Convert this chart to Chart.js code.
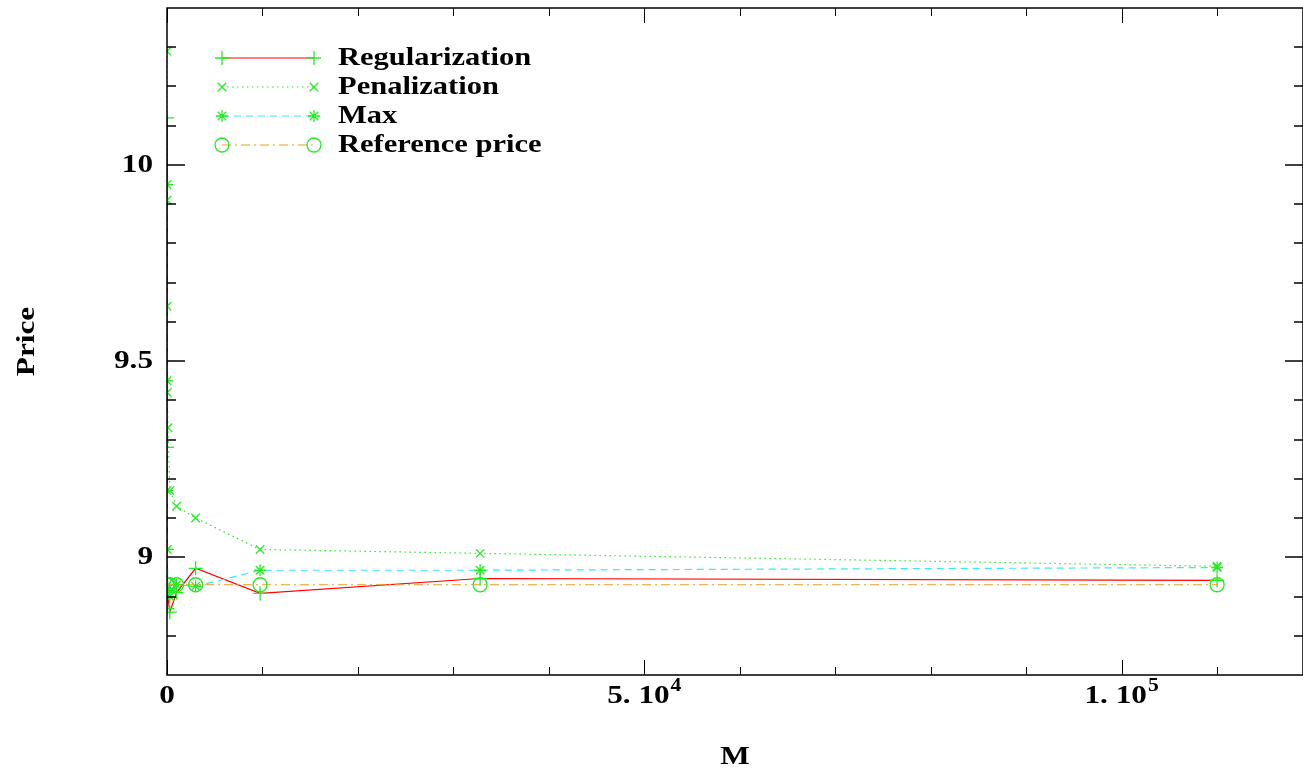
<!DOCTYPE html>
<html><head><meta charset="utf-8">
<script src="https://cdn.jsdelivr.net/npm/chart.js@4/dist/chart.umd.min.js"></script>
<style>html,body{margin:0;padding:0;background:#fff}#wrap{width:1303px;height:770px}</style>
</head><body><div id="wrap"><canvas id="c" width="1303" height="770"></canvas></div>
<script>
const M = [1, 3, 10, 30, 100, 300, 1000, 3000, 9750, 32800, 110000];
const regularization = [10.12, 9.28, 9.02, 8.87, 8.91, 8.86, 8.91, 8.972, 8.908, 8.946, 8.941];
const penalization = [10.29, 9.91, 9.64, 9.42, 9.33, 9.17, 9.13, 9.10, 9.02, 9.01, 8.977];
const maxPrice = [9.95, 9.45, 9.17, 9.02, 8.92, 8.90, 8.93, 8.926, 8.967, 8.967, 8.974];
const referencePrice = [8.93, 8.93, 8.93, 8.93, 8.93, 8.93, 8.93, 8.93, 8.93, 8.93, 8.93];
const seriesNames = ['Regularization', 'Penalization', 'Max', 'Reference price'];
const xTickValues = [0, 50000, 100000];
const xTickMantissa = ['0', '5. 10', '1. 10'];
const xTickExponent = ['', '4', '5'];
const xMinorTicks = [10000, 20000, 30000, 40000, 60000, 70000, 80000, 90000, 110000];
const yTickValues = [9, 9.5, 10];
const yTickLabels = ['9', '9.5', '10'];
const yMinorTicks = [8.8, 8.9, 9.1, 9.2, 9.3, 9.4, 9.6, 9.7, 9.8, 9.9, 10.1, 10.2, 10.3];
const xTitle = 'M';
const yTitle = 'Price';

const GREEN = '#22ee22';
const FONT = '"Liberation Serif", "Times New Roman", serif';
const STRETCH = 1.2;
const styles = [
  {line: '#ff0000', dash: [], point: 'cross', r: 7},
  {line: '#22ee22', dash: [1.5, 3.5], point: 'crossRot', r: 6},
  {line: '#33eeee', dash: [7, 5], point: 'star', r: 6},
  {line: '#e8a020', dash: [9, 4, 2, 4], point: 'circle', r: 7}
];
const allSeries = [regularization, penalization, maxPrice, referencePrice];
const datasets = allSeries.map((vals, i) => ({
  label: seriesNames[i],
  data: M.map((m, j) => ({x: m, y: vals[j]})),
  borderColor: styles[i].line,
  borderWidth: 1.2,
  borderDash: styles[i].dash,
  pointStyle: styles[i].point,
  pointRadius: styles[i].r,
  pointBorderColor: GREEN,
  pointBackgroundColor: 'rgba(0,0,0,0)',
  pointBorderWidth: 1.3,
  tension: 0,
  fill: false,
  clip: 0,
  order: 4 - i
}));

function stretchedText(ctx, str, x, y, size, align, sx) {
  ctx.save();
  ctx.font = 'bold ' + size + 'px ' + FONT;
  const w = ctx.measureText(str).width * sx;
  let left = x;
  if (align === 'center') left = x - w / 2;
  else if (align === 'right') left = x - w;
  ctx.translate(left, y);
  ctx.scale(sx, 1);
  ctx.textAlign = 'left';
  ctx.textBaseline = 'middle';
  ctx.fillText(str, 0, 0);
  ctx.restore();
  return w;
}

const framePlugin = {
  id: 'frame',
  afterDraw(chart) {
    const ctx = chart.ctx, a = chart.chartArea;
    const xs = chart.scales.x, ys = chart.scales.y;
    ctx.save();
    ctx.strokeStyle = '#000';
    ctx.lineWidth = 1.5;
    ctx.setLineDash([]);
    ctx.strokeRect(a.left, a.top, a.right - a.left, a.bottom - a.top);
    ctx.lineWidth = 1;
    const seg = (x1, y1, x2, y2) => { ctx.beginPath(); ctx.moveTo(x1, y1); ctx.lineTo(x2, y2); ctx.stroke(); };
    xTickValues.forEach(v => { const p = Math.round(xs.getPixelForValue(v)) + 0.5; seg(p, a.bottom, p, a.bottom - 15); seg(p, a.top, p, a.top + 15); });
    xMinorTicks.forEach(v => { const p = Math.round(xs.getPixelForValue(v)) + 0.5; seg(p, a.bottom, p, a.bottom - 8); seg(p, a.top, p, a.top + 8); });
    ctx.lineWidth = 1.5;
    yTickValues.forEach(v => { const p = Math.round(ys.getPixelForValue(v)); seg(a.left, p, a.left + 18, p); seg(a.right, p, a.right - 18, p); });
    yMinorTicks.forEach(v => { const p = Math.round(ys.getPixelForValue(v)); seg(a.left, p, a.left + 9, p); seg(a.right, p, a.right - 9, p); });

    // tick labels
    ctx.fillStyle = '#000';
    yTickValues.forEach((v, i) => stretchedText(ctx, yTickLabels[i], a.left - 14, ys.getPixelForValue(v), 26, 'right', STRETCH));
    xTickValues.forEach((v, i) => {
      const cx = xs.getPixelForValue(v), cy = a.bottom + 21;
      ctx.font = 'bold 26px ' + FONT;
      const wm = ctx.measureText(xTickMantissa[i]).width * STRETCH;
      ctx.font = 'bold 18px ' + FONT;
      const we = xTickExponent[i] ? ctx.measureText(xTickExponent[i]).width * STRETCH + 1 : 0;
      const left = cx - (wm + we) / 2;
      stretchedText(ctx, xTickMantissa[i], left, cy, 26, 'left', STRETCH);
      if (we) stretchedText(ctx, xTickExponent[i], left + wm + 1, cy - 10, 18, 'left', STRETCH);
    });
    // axis titles
    stretchedText(ctx, xTitle, (a.left + a.right) / 2, 757, 26, 'center', STRETCH);
    ctx.save();
    ctx.translate(27, (a.top + a.bottom) / 2);
    ctx.rotate(-Math.PI / 2);
    stretchedText(ctx, yTitle, 0, 0, 26, 'center', STRETCH);
    ctx.restore();

    // legend
    const lx1 = a.left + 55, lx2 = a.left + 147, tx = a.left + 171;
    styles.forEach((s, i) => {
      const y = a.top + 50 + i * 29;
      ctx.strokeStyle = s.line; ctx.lineWidth = 1.2; ctx.setLineDash(s.dash);
      seg(lx1, y, lx2, y);
      ctx.setLineDash([]);
      ctx.strokeStyle = GREEN; ctx.lineWidth = 1.3; ctx.fillStyle = 'rgba(0,0,0,0)';
      [lx1, lx2].forEach(px => Chart.helpers.drawPoint(ctx, {pointStyle: s.point, radius: s.r, rotation: 0, borderWidth: 1.3}, px, y));
      ctx.fillStyle = '#000';
      stretchedText(ctx, seriesNames[i], tx, y + 1, 24.5, 'left', 1.245);
    });
    ctx.restore();
  }
};

new Chart(document.getElementById('c'), {
  type: 'line',
  data: {datasets},
  plugins: [framePlugin],
  options: {
    responsive: false,
    animation: false,
    devicePixelRatio: 1,
    layout: {autoPadding: false, padding: {top: 8, right: 0, left: 0, bottom: 0}},
    plugins: {legend: {display: false}, tooltip: {enabled: false}},
    scales: {
      x: {
        type: 'linear', min: 0, max: 119000,
        afterBuildTicks: s => { s.ticks = xTickValues.map(v => ({value: v})); },
        afterFit: s => { s.height = 95; s.paddingLeft = 0; s.paddingRight = 0; },
        grid: {display: false, drawTicks: false},
        border: {display: false},
        ticks: {display: false},
        title: {display: false, text: xTitle}
      },
      y: {
        type: 'linear', min: 8.7, max: 10.4,
        afterBuildTicks: s => { s.ticks = yTickValues.map(v => ({value: v})); },
        afterFit: s => { s.width = 167; s.paddingTop = 0; s.paddingBottom = 0; },
        grid: {display: false, drawTicks: false},
        border: {display: false},
        ticks: {display: false},
        title: {display: false, text: yTitle}
      }
    }
  }
});
</script>
</body></html>
